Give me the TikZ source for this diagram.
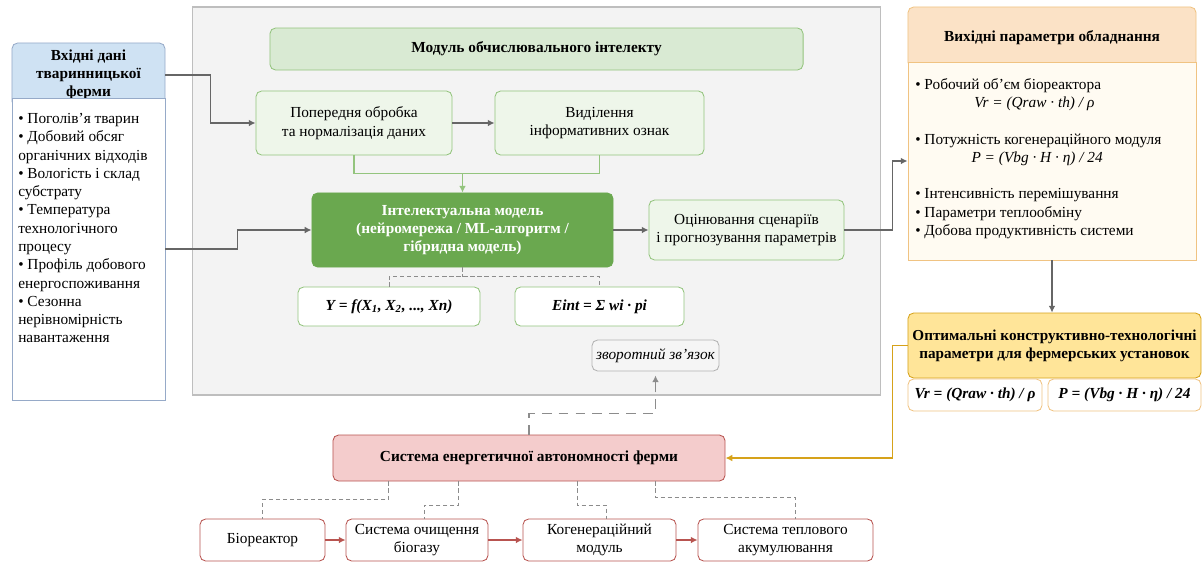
\documentclass[tikz,border=0pt]{standalone}
\usepackage{fontspec}
\setmainfont{Liberation Serif}
\usepackage{xcolor}
\usepackage{tikz}
\usetikzlibrary{arrows.meta}
\usetikzlibrary{calc,positioning}
\definecolor{panelFill}{RGB}{243,243,243}
\definecolor{panelLine}{RGB}{190,190,190}
\definecolor{blueHead}{RGB}{207,226,243}
\definecolor{blueLine}{RGB}{150,170,200}
\definecolor{greenFill}{RGB}{217,234,211}
\definecolor{greenLight}{RGB}{238,246,234}
\definecolor{greenLine}{RGB}{147,196,125}
\definecolor{greenDark}{RGB}{106,168,79}
\definecolor{greyLine}{RGB}{102,102,102}
\definecolor{redFill}{RGB}{244,204,204}
\definecolor{redLine}{RGB}{184,84,80}
\definecolor{peachHead}{RGB}{251,226,198}
\definecolor{peachLine}{RGB}{240,195,130}
\definecolor{creamFill}{RGB}{255,251,242}
\definecolor{goldFill}{RGB}{255,229,153}
\definecolor{goldLine}{RGB}{214,162,26}
\newcommand{\diagfont}{\fontsize{10.9}{13}\selectfont}
\tikzset{%
  >={Latex[width=1.7mm,length=1.7mm]},
  % Specifications for style of nodes:
  base/.style = {rectangle, rounded corners=4pt, draw=black, line width=0.6pt,
    align=center, inner sep=2pt, font=\diagfont},
  panelbox/.style = {rectangle, draw=panelLine, fill=panelFill, line width=0.8pt},
  headBlue/.style = {base, draw=blueLine, fill=blueHead, font=\diagfont\bfseries},
  listBlue/.style = {rectangle, draw=blueLine, fill=white, line width=0.6pt},
  titleGreen/.style = {base, draw=greenLine, fill=greenFill, font=\diagfont\bfseries},
  stepGreen/.style = {base, draw=greenLine, fill=greenLight},
  modelbox/.style = {base, draw=greenDark, fill=greenDark, text=white,
    font=\diagfont\bfseries},
  formbox/.style = {base, draw=greenLine, fill=white, font=\diagfont\bfseries\itshape},
  fbbox/.style = {base, draw=black!30, fill=black!4, font=\diagfont\itshape},
  headPeach/.style = {base, draw=peachLine, fill=peachHead, font=\diagfont\bfseries},
  listPeach/.style = {rectangle, draw=peachLine, fill=creamFill, line width=0.6pt},
  optbox/.style = {base, draw=goldLine, fill=goldFill, inner xsep=0pt,
    font=\fontsize{10.8}{13}\selectfont\bfseries},
  optform/.style = {base, draw=peachLine, fill=white, font=\diagfont\bfseries\itshape},
  sysbox/.style = {base, draw=redLine, fill=redFill, font=\diagfont\bfseries},
  unitbox/.style = {base, draw=redLine, fill=white},
  listtext/.style = {align=left, inner sep=0pt, anchor=north west, font=\diagfont},
  % Specifications for style of connectors:
  lineGrey/.style = {draw=greyLine, line width=1pt},
  lineGreen/.style = {draw=greenLine, line width=0.9pt},
  lineRed/.style = {draw=redLine, line width=1pt},
  lineGold/.style = {draw=goldLine, line width=1.1pt},
  dashFine/.style = {draw=black!45, line width=0.7pt, dash pattern=on 3pt off 2pt},
  dashBig/.style = {draw=black!45, line width=1.1pt, dash pattern=on 7pt off 5pt},
}

\begin{document}
\begin{tikzpicture}[x=0.025cm, y=-0.025cm]
        \useasboundingbox (0,0) rectangle (1203,562);
        % Specification of nodes (position, etc.)
        \node(panel)[panelbox, minimum width=17.175cm, minimum height=9.7cm] at (536.5,201) {};
        \node(inHead)[headBlue, minimum width=3.825cm, minimum height=1.6cm] at (88.5,75)
          {Вхідні дані\\тваринницької\\ферми};
        \node(inBody)[listBlue, minimum width=3.825cm, minimum height=7.55cm] at (88.5,249) {};
        \node(inList)[listtext] at (18,113) {%
          • Поголів’я тварин\\
          • Добовий обсяг\\
          органічних відходів\\
          • Вологість і склад\\
          субстрату\\
          • Температура\\
          технологічного\\
          процесу\\
          • Профіль добового\\
          енергоспоживання\\
          • Сезонна\\
          нерівномірність\\
          навантаження};
        \node(modTitle)[titleGreen, minimum width=13.325cm, minimum height=1.05cm] at (536.5,49)
          {Модуль обчислювального інтелекту};
        \node(prep)[stepGreen, minimum width=4.9cm, minimum height=1.6cm] at (354,123)
          {Попередня обробка\\та нормалізація даних};
        \node(feat)[stepGreen, minimum width=5.225cm, minimum height=1.6cm] at (599.5,123)
          {Виділення\\інформативних ознак};
        \node(model)[modelbox, minimum width=7.525cm, minimum height=1.85cm] at (462.5,230)
          {Інтелектуальна модель\\(нейромережа / ML-алгоритм /\\гібридна модель)};
        \node(evalS)[stepGreen, minimum width=4.875cm, minimum height=1.5cm] at (746.5,230)
          {Оцінювання сценаріїв\\і прогнозування параметрів};
        \node(fY)[formbox, minimum width=4.55cm, minimum height=0.975cm] at (389,306.5)
          {Y = f(X\textsubscript{1}, X\textsubscript{2}, ..., Xn)};
        \node(fE)[formbox, minimum width=4.225cm, minimum height=0.975cm] at (599.5,306.5)
          {Eint = Σ wi · pi};
        \node(fb)[fbbox, inner xsep=1pt, minimum width=3.175cm, minimum height=0.775cm] at (655.5,355.5)
          {зворотний зв’язок};
        \node(outHead)[headPeach, minimum width=7.2cm, minimum height=1.525cm] at (1052,37.5)
          {Вихідні параметри обладнання};
        \node(outBody)[listPeach, minimum width=7.2cm, minimum height=4.95cm] at (1052,161) {};
        \node(outList)[listtext] at (915,78) {%
          • Робочий об’єм біореактора\\
          \hspace*{42pt}\textit{Vr = (Qraw · th) / ρ}\\[13pt]
          • Потужність когенераційного модуля\\
          \hspace*{40pt}\textit{P = (Vbg · H · η) / 24}\\[13pt]
          • Інтенсивність перемішування\\
          • Параметри теплообміну\\
          • Добова продуктивність системи};
        \node(optim)[optbox, minimum width=7.325cm, minimum height=1.625cm] at (1054.5,345.5)
          {Оптимальні конструктивно-технологічні\\параметри для фермерських установок};
        \node(oV)[optform, minimum width=3.35cm, minimum height=0.8cm] at (975,395)
          {Vr = (Qraw · th) / ρ};
        \node(oP)[optform, minimum width=3.825cm, minimum height=0.8cm] at (1124.5,395)
          {P = (Vbg · H · η) / 24};
        \node(sys)[sysbox, minimum width=9.8cm, minimum height=1.15cm] at (529,458)
          {Система енергетичної автономності ферми};
        \node(bio)[unitbox, minimum width=3.125cm, minimum height=1.05cm] at (262.5,540)
          {Біореактор};
        \node(gas)[unitbox, minimum width=3.55cm, minimum height=1.05cm] at (417,540)
          {Система очищення\\біогазу};
        \node(cog)[unitbox, minimum width=3.825cm, minimum height=1.05cm] at (599.5,540)
          {Когенераційний\\модуль};
        \node(therm)[unitbox, minimum width=4.375cm, minimum height=1.05cm] at (785.5,540)
          {Система теплового\\акумулювання};
        \coordinate(mrg) at (462.5,173);
        % Connectors
        \draw[lineGrey,->](inHead.east) -- ++(45,0) |- (prep.west);
        \draw[lineGrey,->](inBody.east) -- ++(72,0) |- (model.west);
        \draw[lineGrey,->](prep) -- (feat);
        \draw[lineGreen](prep.south) -- ++(0,18) -| (feat.south);
        \draw[lineGreen,->](mrg) -- (model.north);
        \draw[lineGrey,->](model) -- (evalS);
        \draw[lineGrey,->](evalS.east) -- ++(48,0) |- (outBody.west);
        \draw[lineGrey,->](outBody.south) -- (outBody.south |- optim.north);
        \draw[dashFine](model.south) -- ++(0,10);
        \draw[dashFine](fY.north) -- ++(0,-10) -| (fE.north);
        \draw[dashBig,->](sys.north) -- ++(0,-21) -| ($(fb.south)+(0,4)$);
        \draw[lineGold,->](optim.west) -- ++(-15,0) |- (sys.east);
        \draw[dashFine]($(sys.south west)+(56,0)$) -- ++(0,18) -| (bio.north);
        \draw[dashFine]($(sys.south west)+(126,0)$) -- ++(0,24) -| ($(gas.north)+(7,0)$);
        \draw[dashFine]($(sys.south west)+(245,0)$) -- ++(0,24) -| ($(cog.north)+(7,0)$);
        \draw[dashFine]($(sys.south west)+(323,0)$) -- ++(0,16) -| ($(therm.north)+(10,0)$);
        \draw[lineRed,->](bio) -- (gas);
        \draw[lineRed,->](gas) -- (cog);
        \draw[lineRed,->](cog) -- (therm);
    \end{tikzpicture}
\end{document}
